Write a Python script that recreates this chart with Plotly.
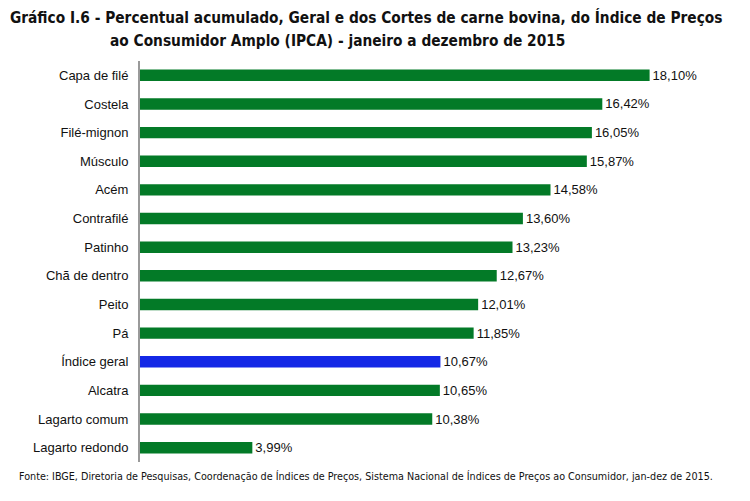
import plotly.graph_objects as go

categories = ["Capa de filé", "Costela", "Filé-mignon", "Músculo", "Acém", "Contrafilé",
              "Patinho", "Chã de dentro", "Peito", "Pá", "Índice geral", "Alcatra",
              "Lagarto comum", "Lagarto redondo"]
values = [18.10, 16.42, 16.05, 15.87, 14.58, 13.60, 13.23, 12.67, 12.01, 11.85,
          10.67, 10.65, 10.38, 3.99]
value_labels = [f"{v:.2f}".replace(".", ",") + "%" for v in values]
highlight = "Índice geral"

GREEN = "#037A27"
BLUE = "#1428E6"
colors = [BLUE if c == highlight else GREEN for c in categories]

title_line1 = "Gráfico I.6 - Percentual acumulado, Geral e dos Cortes de carne bovina, do Índice de Preços"
title_line2 = "ao Consumidor Amplo (IPCA) - janeiro a dezembro de 2015"
source = ("Fonte: IBGE, Diretoria de Pesquisas, Coordenação de Índices de Preços, "
          "Sistema Nacional de Índices de Preços ao Consumidor, jan-dez de 2015.")

fig = go.Figure(go.Bar(
    x=values, y=categories, orientation="h",
    marker=dict(color=colors, line=dict(width=0)),
    width=0.4,
    text=value_labels, textposition="outside", constraintext="none",
    textfont=dict(family="Liberation Sans, Arial, sans-serif", size=13, color="#111"),
    cliponaxis=False,
))

# page has an 8px body margin, so figure coords = page coords - 8
OFF = 8
W, H = 750 - OFF, 501 - OFF
L, R, T, B = 132, 30, 52.6, 38.7
pw, ph = W - L - R, H - T - B

def px(x):
    return (x - OFF - L) / pw

def py(y):
    return (H - B - (y - OFF)) / ph

cond = "DejaVu Sans Condensed, Liberation Sans Narrow, sans-serif"
fig.add_annotation(text="<b>" + title_line1 + "</b>", xref="paper", yref="paper",
                   x=px(8), y=py(17), xanchor="left", yanchor="middle", align="left",
                   showarrow=False, font=dict(family=cond, size=15.3, color="#111"))
fig.add_annotation(text="<b>" + title_line2 + "</b>", xref="paper", yref="paper",
                   x=px(108), y=py(41), xanchor="left", yanchor="middle", align="left",
                   showarrow=False, font=dict(family=cond, size=15.3, color="#111"))
fig.add_annotation(text=source, xref="paper", yref="paper",
                   x=px(17), y=py(477), xanchor="left", yanchor="middle", align="left",
                   showarrow=False, font=dict(family=cond, size=10.7, color="#111"))

fig.update_layout(
    width=W, height=H,
    margin=dict(l=L, r=R, t=T, b=B, pad=0),
    paper_bgcolor="white", plot_bgcolor="white",
    showlegend=False,
)
fig.update_xaxes(range=[0, 20.6], visible=False, showgrid=False, zeroline=False)
fig.update_yaxes(autorange="reversed", showgrid=False, zeroline=False,
                 showline=True, linecolor="#9a9a9a", linewidth=2,
                 ticks="", ticklabelstandoff=7,
                 tickfont=dict(family="Liberation Sans, Arial, sans-serif", size=13, color="#111"))

fig.write_html("out.html")
